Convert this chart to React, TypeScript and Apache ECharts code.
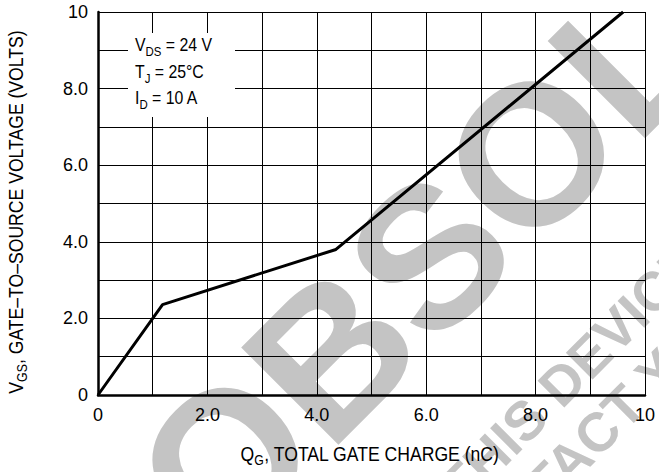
import React, { useEffect, useRef } from "react";
import * as echarts from "echarts";

// Gate charge curve: Q_G (nC) vs V_GS (V)
const qg = [0, 1.18, 4.35, 9.6];
const vgs = [0, 2.36, 3.8, 10];

const xTicks = [0, 2, 4, 6, 8, 10];
const xTickLabels = ["0", "2.0", "4.0", "6.0", "8.0", "10"];
const yTicks = [0, 2, 4, 6, 8, 10];
const yTickLabels = ["0", "2.0", "4.0", "6.0", "8.0", "10"];

const xTitle = ["Q", "G", ", TOTAL GATE CHARGE (nC)"];
const yTitle = ["V", "GS", ", GATE–TO–SOURCE VOLTAGE (VOLTS)"];

const conditionLines = [
  ["V", "DS", " = 24 V"],
  ["T", "J", " = 25°C"],
  ["I", "D", " = 10 A"],
];

const watermark = ["OBSOLETE", "THIS DEVICE", "CONTACT Y"];

const FONT = '"Liberation Sans", Arial, Helvetica, sans-serif';
const WM_COLOR = "#c4c4c4";

export default function App() {
  const ref = useRef<HTMLDivElement>(null);
  useEffect(() => {
    if (!ref.current) return;
    const chart = echarts.init(ref.current, undefined, { renderer: "svg" });
    const lbl = (ticks: number[], labels: string[]) => (v: number) => {
      const i = ticks.indexOf(Math.round(v * 1000) / 1000);
      return i >= 0 ? labels[i] : "";
    };
    const sub = (l: string[]) => `{a|${l[0]}}{s|${l[1]}}{a|${l[2]}}`;
    const titleRich = {
      a: { fontSize: 20, lineHeight: 26, fontFamily: FONT, fill: "#000" },
      s: { fontSize: 14, lineHeight: 14, verticalAlign: "bottom", fontFamily: FONT, fill: "#000" },
    };
    const condText = conditionLines.map(sub).join("\n");
    const wm = (text: string, x: number, y: number, size: number) => ({
      type: "text",
      x,
      y,
      rotation: Math.PI / 4,
      z: -10,
      silent: true,
      style: {
        text,
        fontSize: size,
        fontWeight: "bold",
        fontFamily: FONT,
        fill: WM_COLOR,
        align: "left",
        verticalAlign: "middle",
      },
    });
    chart.setOption({
      animation: false,
      backgroundColor: "#fff",
      grid: { left: 98, right: 14, top: 12, bottom: 77, containLabel: false },
      xAxis: {
        type: "value",
        min: 0,
        max: 10,
        interval: 1,
        axisLine: { show: true, onZero: false, lineStyle: { color: "#000", width: 2.5 } },
        axisTick: { show: false },
        splitLine: { show: true, lineStyle: { color: "#000", width: 1 } },
        axisLabel: {
          formatter: lbl(xTicks, xTickLabels),
          color: "#000",
          fontSize: 18,
          fontFamily: FONT,
          margin: 11,
        },
      },
      yAxis: {
        type: "value",
        min: 0,
        max: 10,
        interval: 1,
        axisLine: { show: true, onZero: false, lineStyle: { color: "#000", width: 2.5 } },
        axisTick: { show: false },
        splitLine: { show: true, lineStyle: { color: "#000", width: 1 } },
        axisLabel: {
          formatter: lbl(yTicks, yTickLabels),
          color: "#000",
          fontSize: 18,
          fontFamily: FONT,
          margin: 10,
        },
      },
      graphic: [
        wm(watermark[0], 170, 515, 200),
        wm(watermark[1], 449, 496, 55),
        wm(watermark[2], 448, 582, 55),
        {
          type: "text",
          x: 370,
          y: 454,
          scaleX: 0.88,
          z: 20,
          silent: true,
          style: { text: sub(xTitle), rich: titleRich, align: "center", verticalAlign: "middle" },
        },
        {
          type: "text",
          x: 16,
          y: 212,
          rotation: Math.PI / 2,
          scaleX: 0.88,
          z: 20,
          silent: true,
          style: { text: sub(yTitle), rich: titleRich, align: "center", verticalAlign: "middle" },
        },
        {
          type: "rect",
          z: 50,
          silent: true,
          shape: { x: 128, y: 33, width: 107, height: 84 },
          style: { fill: "#fff" },
        },
        {
          type: "text",
          x: 135,
          y: 32,
          scaleX: 0.88,
          z: 51,
          silent: true,
          style: {
            text: condText,
            verticalAlign: "top",
            align: "left",
            rich: {
              a: { fontSize: 18, lineHeight: 26.5, fontFamily: FONT, fill: "#000" },
              s: { fontSize: 13, lineHeight: 13, verticalAlign: "bottom", fontFamily: FONT, fill: "#000" },
            },
          },
        },
      ],
      series: [
        {
          type: "line",
          data: qg.map((x, i) => [x, vgs[i]]),
          showSymbol: false,
          symbol: "none",
          lineStyle: { color: "#000", width: 3 },
          z: 5,
        },
      ],
    });
    return () => chart.dispose();
  }, []);
  return (
    <div
      ref={ref}
      style={{ position: "absolute", left: 0, top: 0, width: 659, height: 472 }}
    />
  );
}
